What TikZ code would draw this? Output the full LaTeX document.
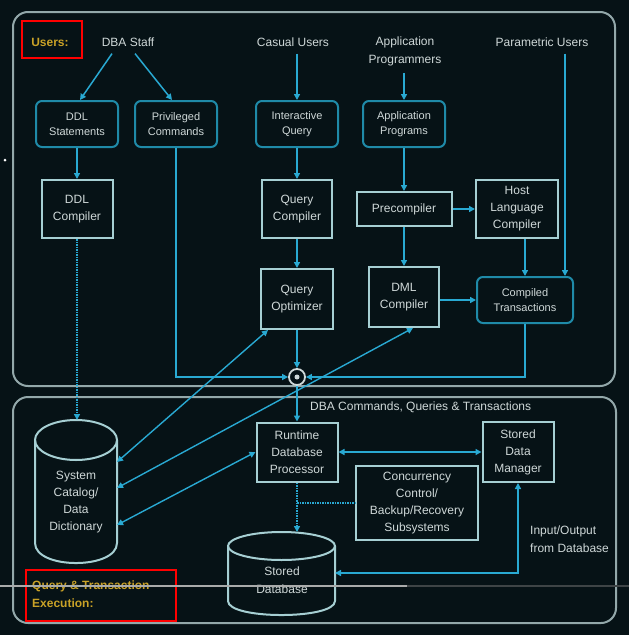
\documentclass[tikz,border=0pt]{standalone}
\usepackage{fontspec}
\setmainfont{Liberation Sans}
\usetikzlibrary{arrows.meta}

\definecolor{bgdark}{HTML}{061216}
\definecolor{panelgray}{HTML}{93A8AA}
\definecolor{boxteal}{HTML}{1F8AA8}
\definecolor{boxlight}{HTML}{A6CFD3}
\definecolor{flowcyan}{HTML}{29A9D2}
\definecolor{textgray}{HTML}{CFD8D8}
\definecolor{labelgold}{HTML}{C9A227}
\definecolor{barlight}{HTML}{A9ABAB}
\definecolor{bardark}{HTML}{3E4446}

\tikzset{
    userbox/.style={draw=boxteal, line width=2pt, rounded corners=6pt, minimum width=82pt, minimum height=46pt, align=center, text=textgray, font=\fontsize{11}{15}\selectfont, inner sep=2pt},
    procbox/.style={draw=boxlight, line width=2pt, minimum width=71pt, minimum height=58pt, align=center, text=textgray, font=\fontsize{12}{17}\selectfont, inner sep=2pt},
    lbl/.style={text=textgray, font=\fontsize{12}{18}\selectfont, align=center, inner sep=7pt},
    tagtext/.style={text=labelgold, font=\fontsize{12}{18}\selectfont\bfseries, align=left, inner sep=0pt},
    tagbox/.style={draw=red, line width=2.5pt},
    panel/.style={draw=panelgray, line width=2pt, rounded corners=15pt},
    cyl/.style={draw=boxlight, line width=2pt},
    junction/.style={circle, draw=textgray, fill=bgdark, line width=1.8pt, minimum size=16pt, inner sep=0pt},
    flow/.style={draw=flowcyan, line width=1.5pt, -{Triangle[length=6pt,width=6pt]}},
    dflow/.style={draw=flowcyan, line width=1.4pt, {Triangle[length=6pt,width=6pt]}-{Triangle[length=6pt,width=6pt]}},
    dotflow/.style={flow, densely dotted},
    dotline/.style={draw=flowcyan, line width=1.5pt, densely dotted}
}

\begin{document}
\begin{tikzpicture}[x=1pt, y=-1pt]

    \useasboundingbox (0,0) rectangle (629,635);
    \fill[bgdark] (0,0) rectangle (629,635);
    \fill[white] (5,160) circle (1.5pt);

    % The two panels
    \draw[panel] (13,12) rectangle (615,386);
    \draw[panel] (13,397) rectangle (616,623);

    % Users and what they hand in
    \node[tagtext] (users) at (50,42) {Users:};
    \draw[tagbox] (22,21) rectangle (82,58);

    \node[lbl] (dba) at (128,42) {DBA Staff};
    \node[lbl] (casual) at (293,42) {Casual Users};
    \node[lbl] (appprog) at (405,51) {Application\\Programmers};
    \node[lbl] (param) at (542,42) {Parametric Users};

    \node[userbox] (ddlst) at (77,124) {DDL\\Statements};
    \node[userbox] (priv) at (176,124) {Privileged\\Commands};
    \node[userbox] (interq) at (297,124) {Interactive\\Query};
    \node[userbox] (apppgm) at (404,124) {Application\\Programs};

    % Compilers
    \node[procbox] (ddlc) at (77,209) {DDL\\Compiler};
    \node[procbox, minimum width=70pt] (qcomp) at (297,209) {Query\\Compiler};
    \node[procbox, minimum width=95pt, minimum height=34pt] (precomp) at (404,209) {Precompiler};
    \node[procbox, minimum width=82pt] (hostc) at (517,209) {Host\\Language\\Compiler};
    \node[procbox, minimum width=72pt, minimum height=60pt] (qopt) at (297,299) {Query\\Optimizer};
    \node[procbox, minimum width=70pt, minimum height=60pt] (dmlc) at (404,297) {DML\\Compiler};
    \node[userbox, minimum width=96pt] (compt) at (525,300) {Compiled\\Transactions};

    \draw[flow] ([xshift=-16pt]dba.south) -- ([xshift=3pt]ddlst.north);
    \draw[flow] ([xshift=7pt]dba.south) -- ([xshift=-4pt]priv.north);
    \draw[flow] (casual.south -| interq.north) -- (interq.north);
    \draw[flow] (appprog.south -| apppgm.north) -- (apppgm.north);
    \draw[flow] ([xshift=23pt]param.south) -- ([xshift=23pt]param.south |- compt.north);

    \draw[flow] (ddlst) -- (ddlc);
    \draw[flow] (interq) -- (qcomp);
    \draw[flow] (qcomp) -- (qopt);
    \draw[flow] (apppgm) -- (precomp);
    \draw[flow] (precomp) -- (hostc);
    \draw[flow] (precomp) -- (dmlc);
    \draw[flow] (dmlc.east |- compt.west) -- (compt.west);
    \draw[flow] (hostc.south -| compt.north) -- (compt.north);

    % Everything meets here
    \node[junction] (junc) at (297,377) {};
    \fill[textgray] (junc) circle (2.5pt);
    \draw[flow] (qopt) -- (junc);
    \draw[flow] (priv.south) |- (junc.west);
    \draw[flow] (compt.south) |- (junc.east);

    % Execution side
    \node[lbl, anchor=west] (dbacmd) at (303,407) {DBA Commands, Queries \& Transactions};
    \node[procbox, minimum width=81pt, minimum height=59pt] (rdp) at (297,452) {Runtime\\Database\\Processor};
    \node[procbox, minimum height=60pt] (sdm) at (518,452) {Stored\\Data\\Manager};
    \node[procbox, minimum width=122pt, minimum height=74pt] (conc) at (417,503) {Concurrency\\Control/\\Backup/Recovery\\Subsystems};

    % System catalog
    \draw[cyl] (76,440) ellipse[x radius=41, y radius=20];
    \draw[cyl] (35,440) -- (35,543) .. controls (35,569.7) and (117,569.7) .. (117,543) -- (117,440);
    \node[lbl, inner sep=0pt, font=\fontsize{12}{16.7}\selectfont] (catalog) at (76,502) {System\\Catalog/\\Data\\Dictionary};

    % Stored database
    \draw[cyl] (281.5,546) ellipse[x radius=53.5, y radius=14];
    \draw[cyl] (228,546) -- (228,601) .. controls (228,619.7) and (335,619.7) .. (335,601) -- (335,546);
    \node[lbl, inner sep=0pt] (storeddb) at (282,580) {Stored\\Database};

    \coordinate (cattop) at (77,420);
    \coordinate (cat1) at (117,462);
    \coordinate (cat2) at (117,488);
    \coordinate (cat3) at (117,525);
    \coordinate (sdbtop) at (297,532);
    \coordinate (sdbside) at (335,573);
    \coordinate (qoptfoot) at ([xshift=-29pt]qopt.south);
    \coordinate (dmlfoot) at ([xshift=9pt]dmlc.south);

    \draw[flow] (junc) -- (rdp);
    \draw[dotflow] (ddlc) -- (cattop);
    \foreach \from/\to in {qoptfoot/cat1, dmlfoot/cat2, rdp.west/cat3}{
        \draw[dflow] (\from) -- (\to);
    }
    \draw[dflow] (rdp) -- (sdm);
    \draw[dotflow] (rdp) -- (sdbtop);
    \draw[dotline] (rdp.south |- conc.west) -- (conc.west);
    \draw[dflow] (sdm.south) |- (sdbside);

    \node[lbl, anchor=west, align=left] (io) at (523,539) {Input/Output\\from Database};

    \node[tagtext, anchor=west] (qte) at (32,594) {Query \& Transaction\\Execution:};
    \draw[tagbox] (26,570) rectangle (176,621);

    % Player bar across the bottom
    \fill[barlight] (0,584.5) rectangle (407,587);
    \fill[bardark] (407,584.5) rectangle (629,587);

\end{tikzpicture}
\end{document}
